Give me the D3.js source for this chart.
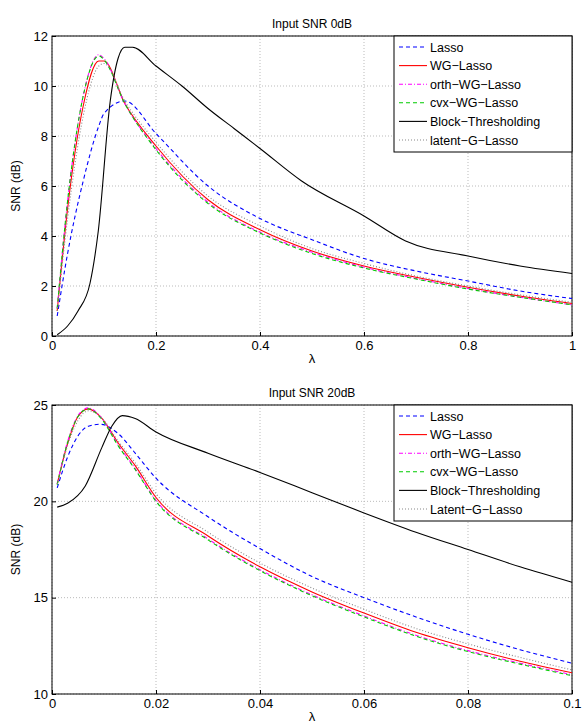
<!DOCTYPE html>
<html><head><meta charset="utf-8">
<script src="https://cdn.jsdelivr.net/npm/d3@7"></script>
<style>body{margin:0;background:#fff}text{font-family:"Liberation Sans",Arial,sans-serif}</style>
</head><body><svg id="c" width="588" height="725"></svg>
<script>
// top panel: input SNR 0dB
const lamTop = [0.01, 0.03, 0.06, 0.09, 0.1, 0.14, 0.2, 0.3, 0.4, 0.5, 0.6, 0.7, 0.8, 0.9, 1.0];
const topLasso = [0.8, 3.3, 6.2, 8.4, 8.9, 9.4, 8.1, 6.0, 4.7, 3.85, 3.1, 2.6, 2.2, 1.8, 1.5];
const topWG = [1.0, 5.1, 9.2, 11.0, 11.0, 9.3, 7.6, 5.45, 4.25, 3.4, 2.8, 2.35, 1.95, 1.6, 1.3];
const topOrth = [1.1, 5.4, 9.6, 11.25, 11.1, 9.3, 7.5, 5.35, 4.15, 3.35, 2.75, 2.3, 1.9, 1.55, 1.25];
const topCvx = [1.1, 5.4, 9.6, 11.2, 11.05, 9.3, 7.45, 5.3, 4.12, 3.3, 2.72, 2.28, 1.88, 1.55, 1.25];
const topLatent = [1.0, 4.7, 8.8, 10.8, 10.9, 9.4, 7.75, 5.6, 4.4, 3.5, 2.9, 2.4, 2.0, 1.65, 1.35];
const lamBlock = [0.01, 0.03, 0.05, 0.073, 0.089, 0.112, 0.127, 0.14, 0.155, 0.2, 0.25, 0.3, 0.35, 0.4, 0.48, 0.6, 0.68, 0.8, 0.9, 1.0];
const topBlock = [0.05, 0.4, 1.0, 2.1, 4.2, 9.4, 11.1, 11.55, 11.55, 10.8, 10.0, 9.1, 8.3, 7.5, 6.2, 4.8, 3.8, 3.2, 2.8, 2.5];

// bottom panel: input SNR 20dB
const lamBot = [0.001, 0.003, 0.005, 0.007, 0.0093, 0.0128, 0.016, 0.02, 0.03, 0.04, 0.05, 0.06, 0.07, 0.08, 0.09, 0.1];
const botLasso = [20.7, 22.3, 23.4, 23.9, 24.0, 23.5, 22.5, 21.2, 19.2, 17.55, 16.1, 15.0, 14.0, 13.1, 12.3, 11.6];
const botWG = [20.9, 23.0, 24.4, 24.8, 24.4, 23.0, 21.85, 20.2, 18.2, 16.6, 15.3, 14.2, 13.2, 12.4, 11.7, 11.1];
const botOrth = [20.9, 23.1, 24.45, 24.85, 24.4, 22.9, 21.7, 20.05, 18.05, 16.45, 15.15, 14.05, 13.05, 12.25, 11.6, 11.0];
const botCvx = [20.85, 23.05, 24.4, 24.8, 24.35, 22.85, 21.65, 20.0, 18.0, 16.4, 15.1, 14.0, 13.0, 12.2, 11.55, 10.95];
const botLatent = [20.9, 22.9, 24.2, 24.7, 24.4, 23.1, 22.0, 20.4, 18.4, 16.8, 15.5, 14.4, 13.4, 12.6, 11.9, 11.25];
const lamBotBlock = [0.001, 0.003, 0.0064, 0.0096, 0.0115, 0.0135, 0.016, 0.02, 0.03, 0.04, 0.05, 0.06, 0.07, 0.08, 0.09, 0.1];
const botBlock = [19.7, 19.9, 20.8, 22.8, 23.9, 24.45, 24.3, 23.6, 22.5, 21.5, 20.45, 19.4, 18.4, 17.5, 16.6, 15.8];

const topNames = ["Lasso", "WG\u2212Lasso", "orth\u2212WG\u2212Lasso", "cvx\u2212WG\u2212Lasso", "Block\u2212Thresholding", "latent\u2212G\u2212Lasso"];
const botNames = ["Lasso", "WG\u2212Lasso", "orth\u2212WG\u2212Lasso", "cvx\u2212WG\u2212Lasso", "Block\u2212Thresholding", "Latent\u2212G\u2212Lasso"];
const colors = ["#0000ff", "#ff0000", "#ff00ff", "#00cc00", "#000000", "#888888"];
const dashes = ["4,3", null, "4,2,1,2", "4,3", null, "1,2"];

const svg = d3.select("#c");

function panel(top, bottom, xMax, yDom, yTicks, xTicks, title, names, series) {
   const x = d3.scaleLinear().domain([0, xMax]).range([52, 572]);
   const y = d3.scaleLinear().domain(yDom).range([bottom, top]);
   const g = svg.append("g");

   g.selectAll(".gx").data(xTicks).enter().append("line")
      .attr("x1", d => x(d)).attr("x2", d => x(d)).attr("y1", top).attr("y2", bottom)
      .attr("stroke", "#bbb").attr("stroke-dasharray", "1,2");
   g.selectAll(".gy").data(yTicks).enter().append("line")
      .attr("x1", 52).attr("x2", 572).attr("y1", d => y(d)).attr("y2", d => y(d))
      .attr("stroke", "#bbb").attr("stroke-dasharray", "1,2");

   g.append("rect").attr("x", 52).attr("y", top).attr("width", 520).attr("height", bottom - top)
      .attr("fill", "none").attr("stroke", "#000");

   const xa = g.append("g").attr("transform", `translate(0,${bottom})`)
      .call(d3.axisBottom(x).tickValues(xTicks).tickSize(-4).tickPadding(5).tickFormat(d3.format("")));
   const ya = g.append("g").attr("transform", "translate(52,0)")
      .call(d3.axisLeft(y).tickValues(yTicks).tickSize(-4).tickPadding(4));
   [xa, ya].forEach(a => {
      a.select(".domain").remove();
      a.selectAll("text").attr("font-size", 13).attr("font-family", "Liberation Sans, Arial");
   });

   g.append("text").attr("x", 312).attr("y", top - 8).attr("text-anchor", "middle")
      .attr("font-size", 12).text(title);
   g.append("text").attr("x", 312).attr("y", bottom + 27).attr("text-anchor", "middle")
      .attr("font-size", 13).text("\u03bb");
   g.append("text").attr("transform", `translate(20,${(top + bottom) / 2}) rotate(-90)`)
      .attr("text-anchor", "middle").attr("font-size", 12).text("SNR (dB)");

   const line = d3.line().x(d => x(d[0])).y(d => y(d[1])).curve(d3.curveMonotoneX);
   series.forEach((s, i) => {
      g.append("path").attr("d", line(s[0].map((v, k) => [v, s[1][k]])))
         .attr("fill", "none").attr("stroke", colors[i]).attr("stroke-width", 1.1)
         .attr("stroke-dasharray", dashes[i]);
   });

   const lg = g.append("g").attr("transform", `translate(394,${top})`);
   lg.append("rect").attr("width", 178).attr("height", 116).attr("fill", "#fff").attr("stroke", "#000");
   names.forEach((n, i) => {
      const yy = 11 + i * 18.6;
      lg.append("line").attr("x1", 5).attr("x2", 33).attr("y1", yy).attr("y2", yy)
         .attr("stroke", colors[i]).attr("stroke-width", 1.1).attr("stroke-dasharray", dashes[i]);
      lg.append("text").attr("x", 36).attr("y", yy + 4.5).attr("font-size", 12.5).text(n);
   });
}

panel(36, 336, 1, [0, 12], [0, 2, 4, 6, 8, 10, 12], [0, 0.2, 0.4, 0.6, 0.8, 1], "Input SNR 0dB", topNames,
   [[lamTop, topLasso], [lamTop, topWG], [lamTop, topOrth], [lamTop, topCvx], [lamBlock, topBlock], [lamTop, topLatent]]);
panel(405, 694, 0.1, [10, 25], [10, 15, 20, 25], [0, 0.02, 0.04, 0.06, 0.08, 0.1], "Input SNR 20dB", botNames,
   [[lamBot, botLasso], [lamBot, botWG], [lamBot, botOrth], [lamBot, botCvx], [lamBotBlock, botBlock], [lamBot, botLatent]]);
</script></body></html>
